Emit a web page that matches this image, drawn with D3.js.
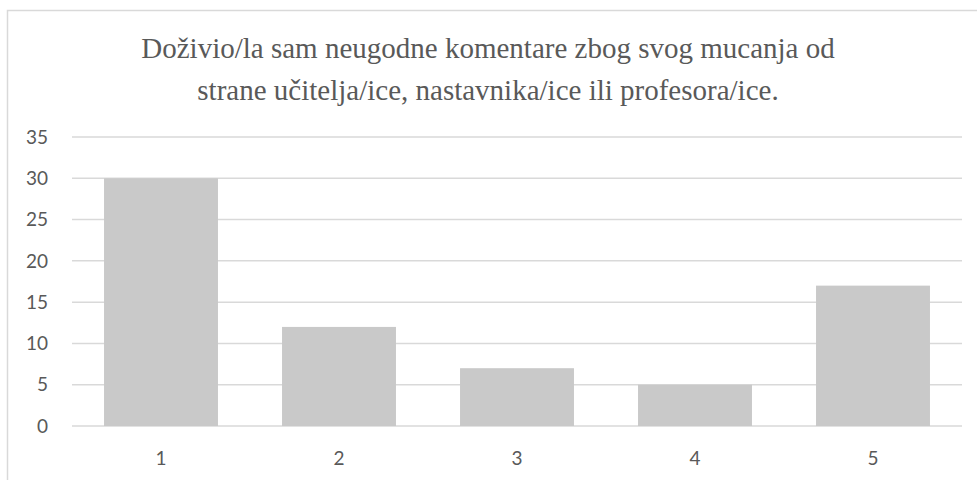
<!DOCTYPE html>
<html>
<head>
<meta charset="utf-8">
<script src="https://cdn.jsdelivr.net/npm/d3@7"></script>
<style>
  body { margin: 0; background: #fff; }
  svg { display: block; }
  .title { font-family: "Liberation Serif", "Times New Roman", "DejaVu Serif", serif; }
</style>
</head>
<body>
<div id="chart"></div>
<script>
// answers on the 1-5 scale and how many people picked each
const categories = ["1", "2", "3", "4", "5"]
const counts = [30, 12, 7, 5, 17]
const yTicks = [0, 5, 10, 15, 20, 25, 30, 35]
const titleLines = [
    "Doživio/la sam neugodne komentare zbog svog mucanja od",
    "strane učitelja/ice, nastavnika/ice ili profesora/ice."
]

const width = 977,
    height = 480
const margin = { top: 137, left: 72, right: 15, bottom: 54 }

const svg = d3.select("#chart").append("svg")
    .attr("width", width)
    .attr("height", height)

// chart frame (runs off the right and bottom edge)
svg.append("rect")
    .attr("x", 7.5)
    .attr("y", 10.5)
    .attr("width", width + 10)
    .attr("height", height + 10)
    .attr("fill", "#fff")
    .attr("stroke", "#d9d9d9")
    .attr("stroke-width", 1.5)

svg.selectAll(".title")
    .data(titleLines)
    .enter()
    .append("text")
    .attr("class", "title")
    .attr("x", 488)
    .attr("y", (d, i) => 58 + i * 42)
    .attr("text-anchor", "middle")
    .attr("font-size", 29)
    .attr("fill", "#595959")
    .text(d => d)

const x = d3.scaleBand()
    .domain(categories)
    .range([margin.left, width - margin.right])
    .paddingInner(0.36)
    .paddingOuter(0.18)

const y = d3.scaleLinear()
    .domain([0, 35])
    .range([height - margin.bottom, margin.top])

// gridlines
svg.append("g")
    .selectAll("line")
    .data(yTicks)
    .enter()
    .append("line")
    .attr("x1", margin.left)
    .attr("x2", width - margin.right)
    .attr("y1", d => y(d))
    .attr("y2", d => y(d))
    .attr("stroke", "#d9d9d9")
    .attr("stroke-width", 1.5)

svg.append("g")
    .selectAll("rect")
    .data(counts)
    .enter()
    .append("rect")
    .attr("x", (d, i) => x(categories[i]))
    .attr("y", d => y(d))
    .attr("width", x.bandwidth())
    .attr("height", d => y(0) - y(d))
    .attr("fill", "#c9c9c9")

// y tick labels
svg.append("g")
    .selectAll("text")
    .data(yTicks)
    .enter()
    .append("text")
    .attr("x", 48)
    .attr("y", d => y(d))
    .attr("dy", "0.35em")
    .attr("text-anchor", "end")
    .attr("font-family", "Lato, 'Open Sans', sans-serif")
    .attr("font-size", 19)
    .attr("fill", "#595959")
    .text(d => d)

// x tick labels
svg.append("g")
    .selectAll("text")
    .data(categories)
    .enter()
    .append("text")
    .attr("x", d => x(d) + x.bandwidth() / 2)
    .attr("y", y(0) + 32)
    .attr("dy", "0.35em")
    .attr("text-anchor", "middle")
    .attr("font-family", "Lato, 'Open Sans', sans-serif")
    .attr("font-size", 19)
    .attr("fill", "#595959")
    .text(d => d)
</script>
</body>
</html>
